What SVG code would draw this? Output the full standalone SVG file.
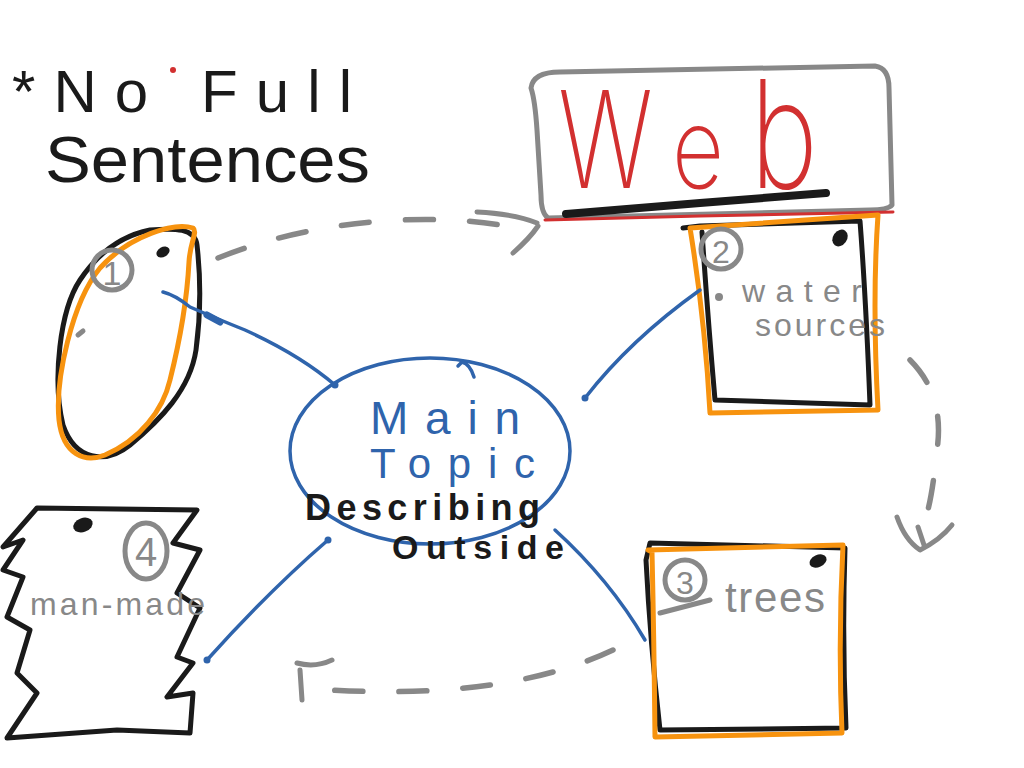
<svg xmlns="http://www.w3.org/2000/svg" width="1024" height="768" viewBox="0 0 1024 768">
<defs>
<style>
.ink{fill:none;stroke-linecap:round;stroke-linejoin:round}
.blk{stroke:#1a1a1a;stroke-width:5}
.org{stroke:#f7930f;stroke-width:5}
.gry{stroke:#888;stroke-width:5}
.blu{stroke:#2f64ac;stroke-width:3.5}
.dash{stroke:#888;stroke-width:5.5;stroke-dasharray:28 36}
.t{font-family:"Liberation Sans","DejaVu Sans",sans-serif}
.thin{font-family:"Inter","Roboto","Lato","Liberation Sans",sans-serif;font-weight:200}
.tg{fill:#888}
.tb{fill:#1a1a1a}
.tblue{fill:#2f64ac}
.tred{fill:#d23030}
</style>
</defs>
<rect width="1024" height="768" fill="#fff"/>

<g id="note">
<text class="t tb" x="12" y="112" font-size="60" textLength="340" lengthAdjust="spacing">*No Full</text>
<text class="t tb" x="45" y="182" font-size="64" textLength="325" lengthAdjust="spacingAndGlyphs">Sentences</text>
<circle cx="173" cy="70" r="3" fill="#d23030"/>
</g>

<g id="web">
<path class="ink gry" d="M531,88 Q533,72 560,72 L875,66 Q889,68 889,88 L892,205 Q888,210 870,210 L548,218 Q541,213 541,195 L537,130 Q535,100 531,88 Z"/>
<path class="ink" stroke="#d23030" stroke-width="3" d="M545,220 L700,216 L893,212"/>
<text class="thin tred" y="188"><tspan x="558" font-size="135" textLength="95" lengthAdjust="spacingAndGlyphs">W</tspan><tspan x="672" font-size="112" textLength="52" lengthAdjust="spacingAndGlyphs">e</tspan><tspan x="750" font-size="150" textLength="68" lengthAdjust="spacingAndGlyphs">b</tspan></text>
<path class="ink" stroke="#1a1a1a" stroke-width="8" d="M566,214 L700,203 L826,193"/>
</g>

<g id="node1">
<path class="ink blk" d="M150,230 C175,228 195,228 197,245 C201,280 200,320 196,350 C190,390 160,420 130,445 C105,465 75,460 63,425 C52,380 60,310 80,280 C100,250 125,235 150,230 Z"/>
<path class="ink org" d="M193,228 C175,222 130,235 100,268 C72,302 55,380 59,420 C63,455 85,463 105,455 C140,440 163,410 170,380 C180,340 187,300 189,262 C190,242 198,232 193,228 Z"/>
<circle class="ink gry" cx="112" cy="270" r="20" stroke-width="4"/>
<text class="t tg" x="112" y="285" font-size="34" text-anchor="middle">1</text>
<ellipse cx="163" cy="252" rx="7" ry="5" fill="#1a1a1a" transform="rotate(-30 163 252)"/>
<path class="ink gry" d="M78,335 L83,331"/>
</g>

<g id="node2">
<path class="ink blk" d="M683,228 L700,226 L860,221 Q866,300 870,405 L715,400 Q708,320 702,232"/>
<path class="ink org" d="M690,228 L878,215 Q872,300 878,410 L710,413 Q705,320 690,228 Z"/>
<circle class="ink gry" cx="721" cy="249" r="20" stroke-width="4"/>
<text class="t tg" x="721" y="263" font-size="32" text-anchor="middle">2</text>
<ellipse cx="840" cy="238" rx="7" ry="9" fill="#1a1a1a" transform="rotate(35 840 238)"/>
<circle cx="719" cy="297" r="4" fill="#888"/>
<text class="t tg" x="742" y="302" font-size="32" textLength="120" lengthAdjust="spacing">water</text>
<text class="t tg" x="755" y="336" font-size="32" textLength="130" lengthAdjust="spacing">sources</text>
</g>

<g id="node3">
<path class="ink blk" d="M650,543 L845,548 Q842,640 846,728 L660,730 Q650,640 646,560 Z"/>
<path class="ink org" d="M648,550 L843,545 Q838,640 842,733 L655,737 Q654,640 652,552 Z"/>
<circle class="ink gry" cx="685" cy="580" r="20" stroke-width="4"/>
<text class="t tg" x="685" y="594" font-size="32" text-anchor="middle">3</text>
<path class="ink gry" d="M660,613 L710,600"/>
<ellipse cx="818" cy="561" rx="9" ry="6" fill="#1a1a1a" transform="rotate(-25 818 561)"/>
<text class="t tg" x="725" y="612" font-size="42" textLength="100" lengthAdjust="spacing">trees</text>
</g>

<g id="node4">
<path class="ink blk" d="M37,508 L197,510 L173,543 L200,550 L177,593 L200,608 L177,657 L193,663 L167,697 L193,693 L190,733 L117,730 L7,738 L37,693 L17,673 L30,630 L7,617 L23,577 L3,570 L23,540 L3,547 Z"/>
<ellipse class="ink gry" cx="146" cy="551" rx="21" ry="28" stroke-width="4"/>
<text class="t tg" x="146" y="566" font-size="40" text-anchor="middle">4</text>
<ellipse cx="83" cy="525" rx="10" ry="7" fill="#1a1a1a" transform="rotate(-20 83 525)"/>
<text class="t tg" x="30" y="615" font-size="32" textLength="175" lengthAdjust="spacing">man-made</text>
</g>

<g id="main">
<ellipse class="ink blu" cx="430" cy="451" rx="140" ry="93"/>
<path class="ink blu" d="M458,366 L462,362 Q470,364 474,377"/>
<text class="t tblue" x="370" y="434" font-size="46" textLength="150" lengthAdjust="spacing">Main</text>
<text class="t tblue" x="370" y="478" font-size="42" textLength="165" lengthAdjust="spacing">Topic</text>
<text class="t tb" x="305" y="520" font-size="36" font-weight="bold" textLength="235" lengthAdjust="spacing">Describing</text>
<text class="t tb" x="392" y="559" font-size="34" font-weight="bold" textLength="172" lengthAdjust="spacing">Outside</text>
</g>

<g id="connectors">
<path class="ink blu" d="M163,292 Q175,295 190,307 Q215,318 245,330 Q300,355 335,385"/>
<path class="ink" stroke="#2f64ac" stroke-width="7" d="M207,315 L220,322"/>
<path class="ink blu" d="M585,398 Q630,340 700,290"/>
<path class="ink blu" d="M207,660 Q270,590 328,540"/>
<path class="ink blu" d="M555,530 Q610,580 645,640"/>
<circle cx="335" cy="385" r="3.5" fill="#2f64ac"/>
<circle cx="585" cy="398" r="3.5" fill="#2f64ac"/>
<circle cx="328" cy="540" r="3.5" fill="#2f64ac"/>
<circle cx="207" cy="660" r="3.5" fill="#2f64ac"/>

<path class="ink dash" d="M218,258 Q300,225 400,220 Q460,218 500,225"/>
<path class="ink gry" stroke-width="5.5" d="M477,212 Q515,214 537,223 M513,253 Q530,238 538,226"/>

<path class="ink dash" d="M910,360 Q945,395 937,450 Q932,500 925,520"/>
<path class="ink gry" stroke-width="5.5" d="M897,517 Q905,540 920,550 Q940,540 952,525 M918,527 L924,545"/>

<path class="ink dash" d="M613,650 Q560,675 490,685 Q420,695 330,690"/>
<path class="ink gry" stroke-width="5.5" d="M300,670 L302,700 M297,663 Q315,668 332,660"/>
</g>
</svg>
